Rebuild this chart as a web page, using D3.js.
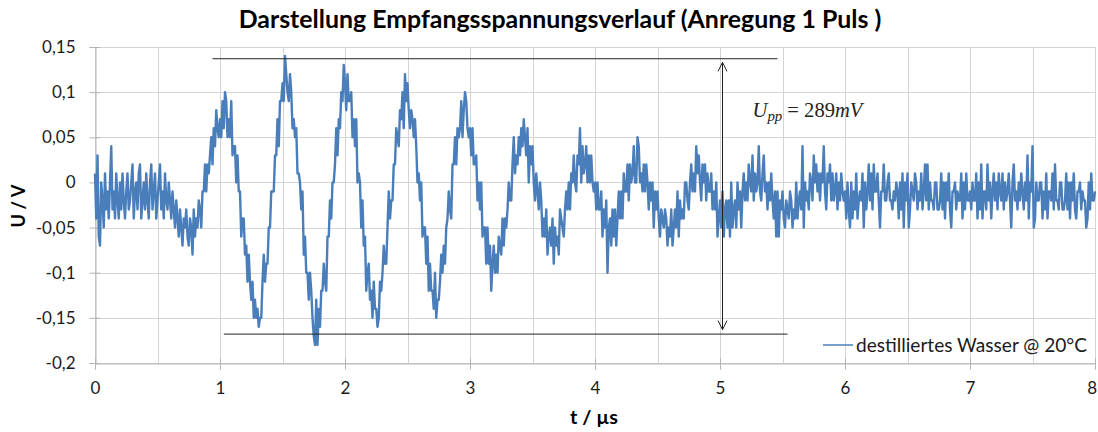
<!DOCTYPE html>
<html>
<head>
<meta charset="utf-8">
<script src="https://cdn.jsdelivr.net/npm/d3@7"></script>
<style>
  html, body { margin: 0; padding: 0; background: #fff; }
  svg { display: block; }
</style>
</head>
<body>
<svg id="chart" width="1098" height="432"></svg>
<script>
// ---------------- data ----------------
const chartTitle = "Darstellung Empfangsspannungsverlauf (Anregung 1 Puls )";
const xAxisTitle = "t / µs";
const yAxisTitle = "U / V";
const seriesName = "destilliertes Wasser @ 20°C";

const timeStart = 0;      // µs
const timeStep = 0.01;    // µs between samples
// received voltage in V, one sample every 0.01 µs from 0 to 8 µs
const voltage = [
0.01,-0.04,0.03,-0.06,-0.07,0,-0.02,-0.05,0.01,-0.03,
-0.01,-0.04,0,0.04,-0.03,-0.01,-0.04,0.01,-0.02,-0.04,
0,-0.03,0.01,-0.02,-0.04,-0.01,0.01,-0.03,-0.02,0,
0.02,-0.04,-0.01,0,-0.03,0.01,0.02,-0.04,-0.02,0,
-0.03,0.01,-0.02,-0.04,0,0.02,-0.03,-0.01,0.01,-0.04,
-0.02,0,0.02,-0.03,-0.01,-0.04,0.01,-0.02,-0.03,0,
-0.02,-0.04,-0.01,-0.03,-0.05,-0.02,-0.04,-0.06,-0.03,-0.05,
-0.07,-0.04,-0.05,-0.03,-0.06,-0.07,-0.04,-0.05,-0.08,-0.03,
-0.06,-0.04,-0.05,-0.02,-0.03,-0.05,-0.01,-0.01,0.02,-0.01,
0.02,0.01,0.03,0.05,0.02,0.06,0.04,0.08,0.06,0.05,
0.07,0.05,0.09,0.06,0.1,0.09,0.05,0.07,0.05,0.09,
0.03,0.04,0.04,0,0.03,-0.01,-0.01,-0.06,-0.04,-0.04,
-0.08,-0.07,-0.11,-0.08,-0.11,-0.13,-0.11,-0.15,-0.13,-0.15,
-0.14,-0.16,-0.15,-0.15,-0.11,-0.08,-0.11,-0.09,-0.09,-0.05,
-0.05,-0.01,-0.01,-0.01,0.03,0.03,0.07,0.04,0.09,0.09,
0.11,0.09,0.14,0.12,0.1,0.09,0.12,0.1,0.06,0.07,
0.05,0.06,0.01,0.01,0,-0.03,-0.01,-0.08,-0.06,-0.1,
-0.1,-0.13,-0.1,-0.12,-0.15,-0.17,-0.18,-0.13,-0.18,-0.14,
-0.16,-0.12,-0.12,-0.09,-0.11,-0.12,-0.06,-0.06,-0.02,-0.04,
0,0,0.02,0.06,0.03,0.07,0.06,0.1,0.09,0.13,
0.11,0.08,0.12,0.09,0.09,0.1,0.05,0.07,0.04,0.07,
0,0.01,0,-0.05,-0.02,-0.07,-0.06,-0.12,-0.1,-0.09,
-0.13,-0.12,-0.15,-0.11,-0.14,-0.14,-0.16,-0.15,-0.11,-0.12,
-0.1,-0.07,-0.09,-0.09,-0.05,-0.01,-0.04,-0.02,-0.02,0.02,
0.02,0.06,0.05,0.04,0.08,0.07,0.1,0.06,0.12,0.09,
0.11,0.08,0.06,0.08,0.07,0.05,0.07,0.04,0,0.01,
-0.02,0,-0.06,-0.05,-0.05,-0.09,-0.06,-0.12,-0.09,-0.12,
-0.12,-0.14,-0.1,-0.15,-0.13,-0.13,-0.11,-0.08,-0.1,-0.07,
-0.09,-0.05,-0.04,-0.01,-0.03,-0.04,0.02,0.02,0.05,0.02,
0.06,0.05,0.06,0.09,0.05,0.08,0.1,0.09,0.06,0.05,
0.06,0.03,0.06,0.02,0.02,0.03,-0.02,0,-0.03,0,
-0.06,-0.05,-0.05,-0.09,-0.05,-0.09,-0.07,-0.12,-0.09,-0.07,
-0.1,-0.08,-0.1,-0.06,-0.07,-0.08,-0.04,-0.07,-0.04,-0.05,
-0.03,0,-0.02,-0.02,0.02,0.05,0.01,0.03,0.02,0.05,
0.03,0.06,0.04,0.07,0.05,0.03,0.06,0,0.04,0.02,
0.04,0,-0.02,0.01,-0.01,-0.03,0,-0.02,-0.06,-0.04,
-0.06,-0.03,-0.08,-0.06,-0.05,-0.07,-0.04,-0.09,-0.05,-0.07,
-0.06,-0.08,-0.03,-0.04,-0.05,-0.06,-0.03,-0.01,-0.03,0,
-0.03,0.01,0,0.03,0,-0.01,0.03,0.02,0.06,0,
0.04,0.01,0.02,0.04,0,0.03,0,0.03,0,-0.01,
0,-0.03,0,-0.03,-0.03,-0.01,-0.06,-0.03,-0.05,-0.02,
-0.1,-0.05,-0.04,-0.07,-0.03,-0.06,-0.03,-0.07,-0.04,-0.01,
-0.04,-0.01,-0.04,0.01,-0.01,-0.01,0.02,-0.02,0.02,0,
0.01,0.04,0,0,0.05,0.04,0,0.01,-0.01,0.02,
-0.01,0.02,0,-0.03,0,-0.02,0,-0.05,-0.01,-0.03,
-0.01,-0.04,-0.06,-0.03,-0.04,-0.05,-0.03,-0.04,-0.07,-0.05,
-0.06,-0.03,-0.07,-0.05,-0.03,-0.05,-0.01,-0.06,-0.02,-0.04,
-0.03,-0.04,0,0,-0.02,-0.03,0,0.02,-0.01,0.01,
-0.01,0.04,0.01,0.03,0,-0.02,0.02,0,0.02,-0.02,
0.01,-0.01,-0.01,0.01,-0.03,-0.01,-0.03,0,-0.06,-0.04,
-0.02,-0.05,-0.01,-0.06,-0.03,-0.02,-0.05,-0.02,-0.06,0,
-0.05,-0.03,-0.02,-0.05,0,-0.03,-0.01,-0.05,-0.01,0.01,
-0.02,0,-0.02,0.02,0,-0.01,0.03,-0.02,0.01,-0.01,
0,0.04,-0.01,-0.02,0.01,0.03,-0.01,0,-0.03,0,
-0.02,0.01,-0.02,-0.04,-0.01,-0.06,-0.01,-0.06,-0.02,-0.03,
-0.01,-0.04,-0.05,-0.02,-0.03,-0.04,-0.01,-0.02,-0.05,-0.03,
-0.04,0,-0.04,-0.02,-0.01,-0.03,0.04,-0.05,0,-0.02,
-0.01,-0.03,0.01,0,-0.02,0.03,0,0.02,-0.01,0.01,
-0.02,0.01,0,0.04,-0.01,-0.03,0.01,0,0.02,-0.02,
0.01,-0.02,-0.01,0.01,-0.03,0,-0.02,0.01,-0.01,-0.02,
-0.01,-0.04,0,-0.03,-0.05,0,-0.04,-0.01,-0.03,0.01,
-0.04,-0.02,-0.01,-0.02,0.01,-0.05,0,-0.03,-0.01,0.02,
-0.02,0.01,-0.03,0.02,-0.01,-0.01,0.01,-0.02,-0.05,-0.01,
-0.01,0.02,-0.02,-0.02,0,0.01,-0.02,-0.02,-0.03,-0.01,
-0.02,0,-0.01,-0.04,0,-0.03,0.01,-0.05,0,-0.02,
0.01,-0.05,-0.03,0,-0.01,-0.02,0.01,0,-0.03,-0.01,
-0.02,0.01,-0.03,-0.01,0.02,-0.02,0.02,-0.03,0,-0.02,
-0.02,-0.03,0,0,-0.03,-0.03,-0.02,0.01,-0.03,0,
-0.04,0,-0.02,0.01,-0.03,-0.05,-0.01,-0.01,0,-0.03,
-0.01,-0.02,-0.02,0.01,-0.04,0,-0.03,0.01,-0.02,-0.02,
-0.01,-0.03,0,-0.02,-0.02,0.01,-0.04,0,-0.03,0.02,
-0.04,-0.01,-0.01,-0.03,0.02,-0.02,0,-0.04,-0.01,0.01,
-0.02,0,-0.03,0.01,-0.01,-0.02,0.01,-0.03,0,-0.02,
-0.01,0.01,-0.02,-0.05,0,0.02,-0.02,-0.01,-0.03,0,
-0.02,0.01,-0.01,-0.03,0,-0.02,0.03,-0.04,0,-0.01,
0.04,-0.05,-0.04,0,-0.02,-0.02,0,0,-0.04,-0.01,
-0.03,0.01,-0.04,-0.01,-0.01,-0.02,0.01,-0.03,0.02,-0.02,
-0.02,-0.03,0,0,-0.03,-0.03,-0.02,0.01,-0.03,0,
-0.04,0,-0.02,0.01,-0.03,-0.04,-0.01,-0.01,0,-0.03,
-0.01,-0.02,-0.02,-0.05,-0.04,0,-0.03,0.01,-0.02,-0.02,
-0.01
];

const xDomain = [0, 8];
const yDomain = [-0.2, 0.15];
const xTicks = [0, 1, 2, 3, 4, 5, 6, 7, 8];
const xGrid = [0, 0.5, 1, 1.5, 2, 2.5, 3, 3.5, 4, 4.5, 5, 5.5, 6, 6.5, 7, 7.5, 8];
const yTicks = [-0.2, -0.15, -0.1, -0.05, 0, 0.05, 0.1, 0.15];

// peak-to-peak annotation (levels in V, extents in µs)
const upperLevel = 0.137, upperFrom = 0.94, upperTo = 5.46;
const lowerLevel = -0.168, lowerFrom = 1.03, lowerTo = 5.54;
const arrowTime = 5.02, arrowTop = 0.133, arrowBottom = -0.163;
const uppLabel = { base: "U", sub: "pp", value: " = 289", unit: "mV", t: 5.26, v: 0.073 };

// ---------------- layout ----------------
const plot = { left: 95, right: 1095, top: 47, bottom: 363 };
const uiFont = "Lato, 'Open Sans', sans-serif";
const blue = "#4A7EBB";
const gridColor = "#D4D4D4";
const axisColor = "#B3B3B3";

const svg = d3.select("#chart");
const x = d3.scaleLinear().domain(xDomain).range([plot.left, plot.right]);
const y = d3.scaleLinear().domain(yDomain).range([plot.bottom, plot.top]);

const de = d3.formatLocale({ decimal: ",", thousands: ".", grouping: [3], currency: ["", " €"], minus: "-" });
const yFmt = de.format(".2~f");
const xFmt = de.format("d");

function fitWidth(sel, target) {
  const w = sel.node().getComputedTextLength();
  const fs = parseFloat(sel.attr("font-size"));
  if (w > 0) sel.attr("font-size", fs * target / w);
  return sel;
}

// grid
const grid = svg.append("g");
grid.selectAll("line.v").data(xGrid).join("line")
  .attr("x1", d => Math.round(x(d)) + 0.5).attr("x2", d => Math.round(x(d)) + 0.5)
  .attr("y1", plot.top).attr("y2", plot.bottom)
  .attr("stroke", gridColor).attr("stroke-width", 1);
grid.selectAll("line.h").data(yTicks).join("line")
  .attr("y1", d => Math.round(y(d)) + 0.5).attr("y2", d => Math.round(y(d)) + 0.5)
  .attr("x1", plot.left).attr("x2", plot.right)
  .attr("stroke", gridColor).attr("stroke-width", 1);

// axes (tick marks cross the axis line)
const yAxis = svg.append("g")
  .attr("transform", `translate(${Math.round(plot.left) + 0.5},0)`)
  .call(d3.axisLeft(y).tickValues(yTicks).tickFormat(yFmt).tickSize(6).tickPadding(14).offset(0.5));
yAxis.selectAll(".tick line").attr("x1", 5);
const xAxis = svg.append("g")
  .attr("transform", `translate(0,${Math.round(plot.bottom) + 0.5})`)
  .call(d3.axisBottom(x).tickValues(xTicks).tickFormat(xFmt).tickSize(6).tickPadding(12).offset(0.5));
xAxis.selectAll(".tick line").attr("y1", -5);
[yAxis, xAxis].forEach(g => {
  g.select(".domain").attr("stroke", axisColor);
  g.selectAll(".tick line").attr("stroke", axisColor);
  g.selectAll(".tick text").attr("font-family", uiFont).attr("font-size", 17).attr("fill", "#1a1a1a");
});
// keep the last x label inside the picture
xAxis.selectAll(".tick text").filter(d => d === xDomain[1]).attr("text-anchor", "end").attr("dx", 1.5);

// series
const line = d3.line()
  .x((d, i) => x(timeStart + i * timeStep))
  .y(d => y(d));
svg.append("path")
  .datum(voltage)
  .attr("d", line)
  .attr("fill", "none")
  .attr("stroke", blue)
  .attr("stroke-width", 2.4)
  .attr("stroke-linejoin", "round");

// annotation lines
const ann = svg.append("g").attr("stroke", "#222").attr("stroke-width", 1).attr("fill", "none");
ann.append("line")
  .attr("x1", x(upperFrom)).attr("x2", x(upperTo))
  .attr("y1", y(upperLevel)).attr("y2", y(upperLevel));
ann.append("line")
  .attr("x1", x(lowerFrom)).attr("x2", x(lowerTo))
  .attr("y1", y(lowerLevel)).attr("y2", y(lowerLevel));
const ax = x(arrowTime), aTop = y(arrowTop), aBot = y(arrowBottom);
ann.append("line").attr("x1", ax).attr("x2", ax).attr("y1", aTop).attr("y2", aBot);
ann.append("path").attr("d", `M${ax - 4.5},${aTop + 9} L${ax},${aTop} L${ax + 4.5},${aTop + 9}`);
ann.append("path").attr("d", `M${ax - 4.5},${aBot - 9} L${ax},${aBot} L${ax + 4.5},${aBot - 9}`);

const upp = svg.append("text")
  .attr("x", x(uppLabel.t)).attr("y", y(uppLabel.v))
  .attr("font-family", "'Liberation Serif', 'DejaVu Serif', serif")
  .attr("font-size", 17).attr("fill", "#222");
upp.append("tspan").attr("font-style", "italic").text(uppLabel.base);
upp.append("tspan").attr("font-style", "italic").attr("font-size", "0.72em").attr("dy", 4).text(uppLabel.sub);
upp.append("tspan").attr("dy", -4).text(uppLabel.value);
upp.append("tspan").attr("font-style", "italic").text(uppLabel.unit);
fitWidth(upp, 110);

// legend
const lg = svg.append("g").attr("transform", "translate(823,345)");
lg.append("line").attr("x1", 0).attr("x2", 30).attr("y1", 0).attr("y2", 0)
  .attr("stroke", blue).attr("stroke-width", 1.5);
const lgText = lg.append("text").attr("x", 33).attr("y", 0).attr("dy", "0.35em")
  .attr("font-family", uiFont).attr("font-size", 18).attr("fill", "#1a1a1a")
  .text(seriesName);
fitWidth(lgText, 231);

// titles
const title = svg.append("text")
  .attr("x", 560).attr("y", 28).attr("text-anchor", "middle")
  .attr("font-family", uiFont).attr("font-weight", "bold").attr("font-size", 22).attr("fill", "#000")
  .text(chartTitle);
fitWidth(title, 643);
const xt = svg.append("text")
  .attr("x", 594).attr("y", 424).attr("text-anchor", "middle")
  .attr("font-family", uiFont).attr("font-weight", "bold").attr("font-size", 18).attr("fill", "#000")
  .text(xAxisTitle);
fitWidth(xt, 48);
const yt = svg.append("text")
  .attr("transform", "translate(25,206) rotate(-90)").attr("text-anchor", "middle")
  .attr("font-family", uiFont).attr("font-weight", "bold").attr("font-size", 18).attr("fill", "#000")
  .text(yAxisTitle);
fitWidth(yt, 43);
</script>
</body>
</html>
